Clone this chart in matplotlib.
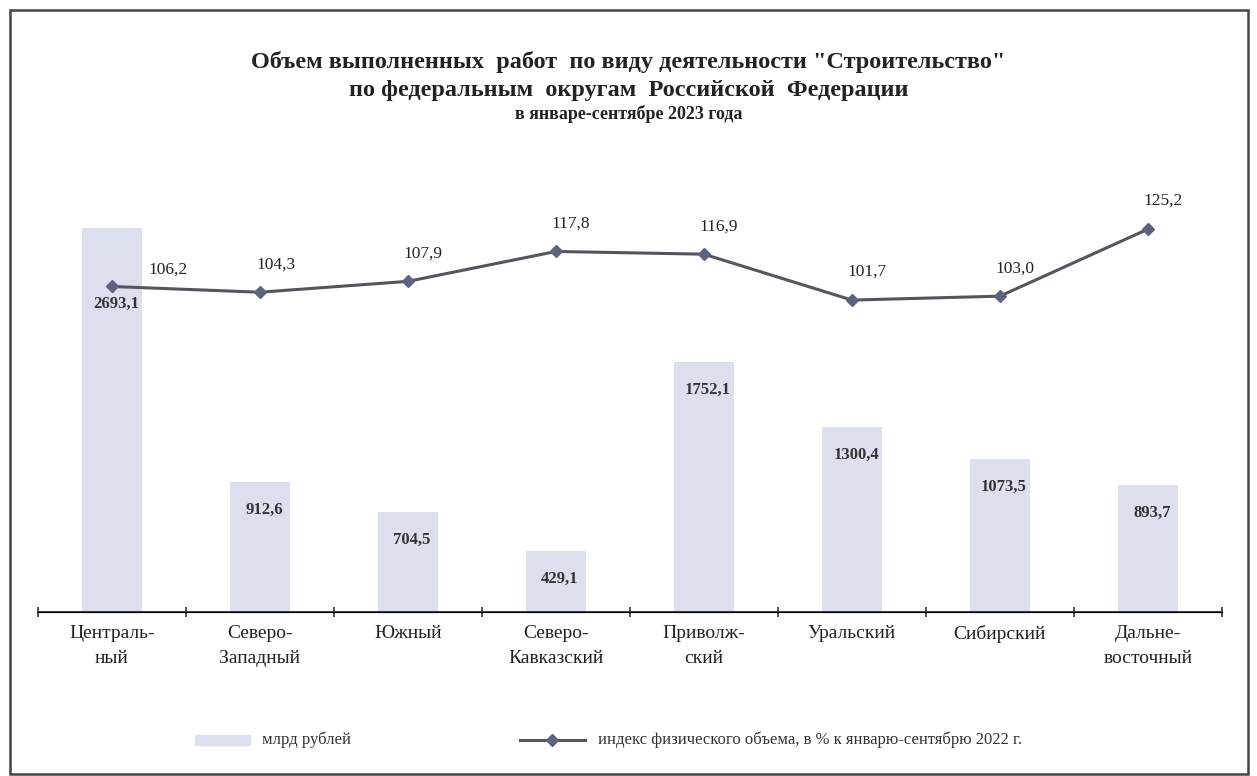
import matplotlib.pyplot as plt
import matplotlib.patches as mpatches
from matplotlib.lines import Line2D
import numpy as np

plt.rcParams["font.family"] = ["Liberation Serif", "DejaVu Serif"]

# Data
districts = ["Централь-\nный", "Северо-\nЗападный", "Южный", "Северо-\nКавказский",
             "Приволж-\nский", "Уральский", "Сибирский", "Дальне-\nвосточный"]
volume_bln = [2693.1, 912.6, 704.5, 429.1, 1752.1, 1300.4, 1073.5, 893.7]
index_pct = [106.2, 104.3, 107.9, 117.8, 116.9, 101.7, 103.0, 125.2]

BAR_COLOR = "#dcdfee"
LINE_COLOR = "#55555e"
MARKER_COLOR = "#5c6280"
TEXT_COLOR = "#222222"


def fmt(v):
    return f"{v:.1f}".replace(".", ",")


fig = plt.figure(figsize=(12.57, 7.76), dpi=100)
ax = fig.add_axes([0.0302, 0.2113, 0.9419, 0.6211])
ax2 = ax.twinx()

x = np.arange(len(districts))
ax.bar(x, volume_bln, width=0.4, color=BAR_COLOR, zorder=1)
ax.set_ylim(0, 3380)
ax.set_xlim(-0.5, len(districts) - 0.5)

# bar value labels just under the bar tops
for i, v in enumerate(volume_bln):
    dy = -76 if i == 0 else -28
    ax.annotate(fmt(v), (i, v), xytext=(4, dy), textcoords="offset pixels",
                ha="center", va="center", fontsize=12, fontweight="bold",
                color="#333333", zorder=5)

ax2.plot(x, index_pct, color=LINE_COLOR, linewidth=2.2, marker="D", markersize=6.5,
         markerfacecolor=MARKER_COLOR, markeredgecolor=MARKER_COLOR, zorder=4)
ax2.set_ylim(-1.6, 158)
for i, v in enumerate(index_pct):
    dx = 36 if i == 0 else -4
    dy = 17 if i == 0 else 28
    ax2.annotate(fmt(v), (i, v), xytext=(dx, dy), textcoords="offset pixels",
                 ha="left", va="center", fontsize=12.5, color=TEXT_COLOR)

# axes styling
for a in (ax, ax2):
    for s in ("top", "right", "left"):
        a.spines[s].set_visible(False)
    a.set_yticks([])
ax.spines["bottom"].set_color("#444444")
ax.spines["bottom"].set_linewidth(1.5)
ax.set_xticks(x)
ax.set_xticklabels(districts, fontsize=14, color=TEXT_COLOR, linespacing=1.65)
ax.tick_params(axis="x", which="major", length=0, pad=9)
ax.set_xticks(np.arange(-0.5, len(districts), 1), minor=True)
ax.tick_params(axis="x", which="minor", length=7, width=1.3, direction="inout",
               color="#444444")

# title
fig.text(0.5, 0.920, 'Объем выполненных  работ  по виду деятельности "Строительство"',
         ha="center", va="center", fontsize=17.5, fontweight="bold", color=TEXT_COLOR)
fig.text(0.5, 0.884, "по федеральным  округам  Российской  Федерации",
         ha="center", va="center", fontsize=17.5, fontweight="bold", color=TEXT_COLOR)
fig.text(0.5, 0.853, "в январе-сентябре 2023 года",
         ha="center", va="center", fontsize=13, fontweight="bold", color=TEXT_COLOR)

# legend, laid out by hand to match the wide spacing
ly = 1 - 740 / 776
fig.patches.append(mpatches.Rectangle((195 / 1257, ly - 0.007), 55 / 1257, 0.014,
                                      transform=fig.transFigure, color=BAR_COLOR))
fig.text(262 / 1257, ly, "млрд рублей", ha="left", va="center",
         fontsize=12, color="#333333")
fig.lines.append(Line2D([520 / 1257, 585 / 1257], [ly, ly], transform=fig.transFigure,
                        color=LINE_COLOR, linewidth=2.2))
fig.lines.append(Line2D([552 / 1257], [ly], transform=fig.transFigure, marker="D",
                        markersize=6, color=MARKER_COLOR, linestyle="none"))
fig.text(598 / 1257, ly, "индекс физического объема, в % к январю-сентябрю 2022 г.",
         ha="left", va="center", fontsize=12, color="#333333")

# outer frame
fig.patches.append(mpatches.Rectangle((0.008, 0.003), 0.985, 0.984,
                                      transform=fig.transFigure, fill=False,
                                      edgecolor="#444444", linewidth=1.8))

plt.savefig("out.png", dpi=100)
